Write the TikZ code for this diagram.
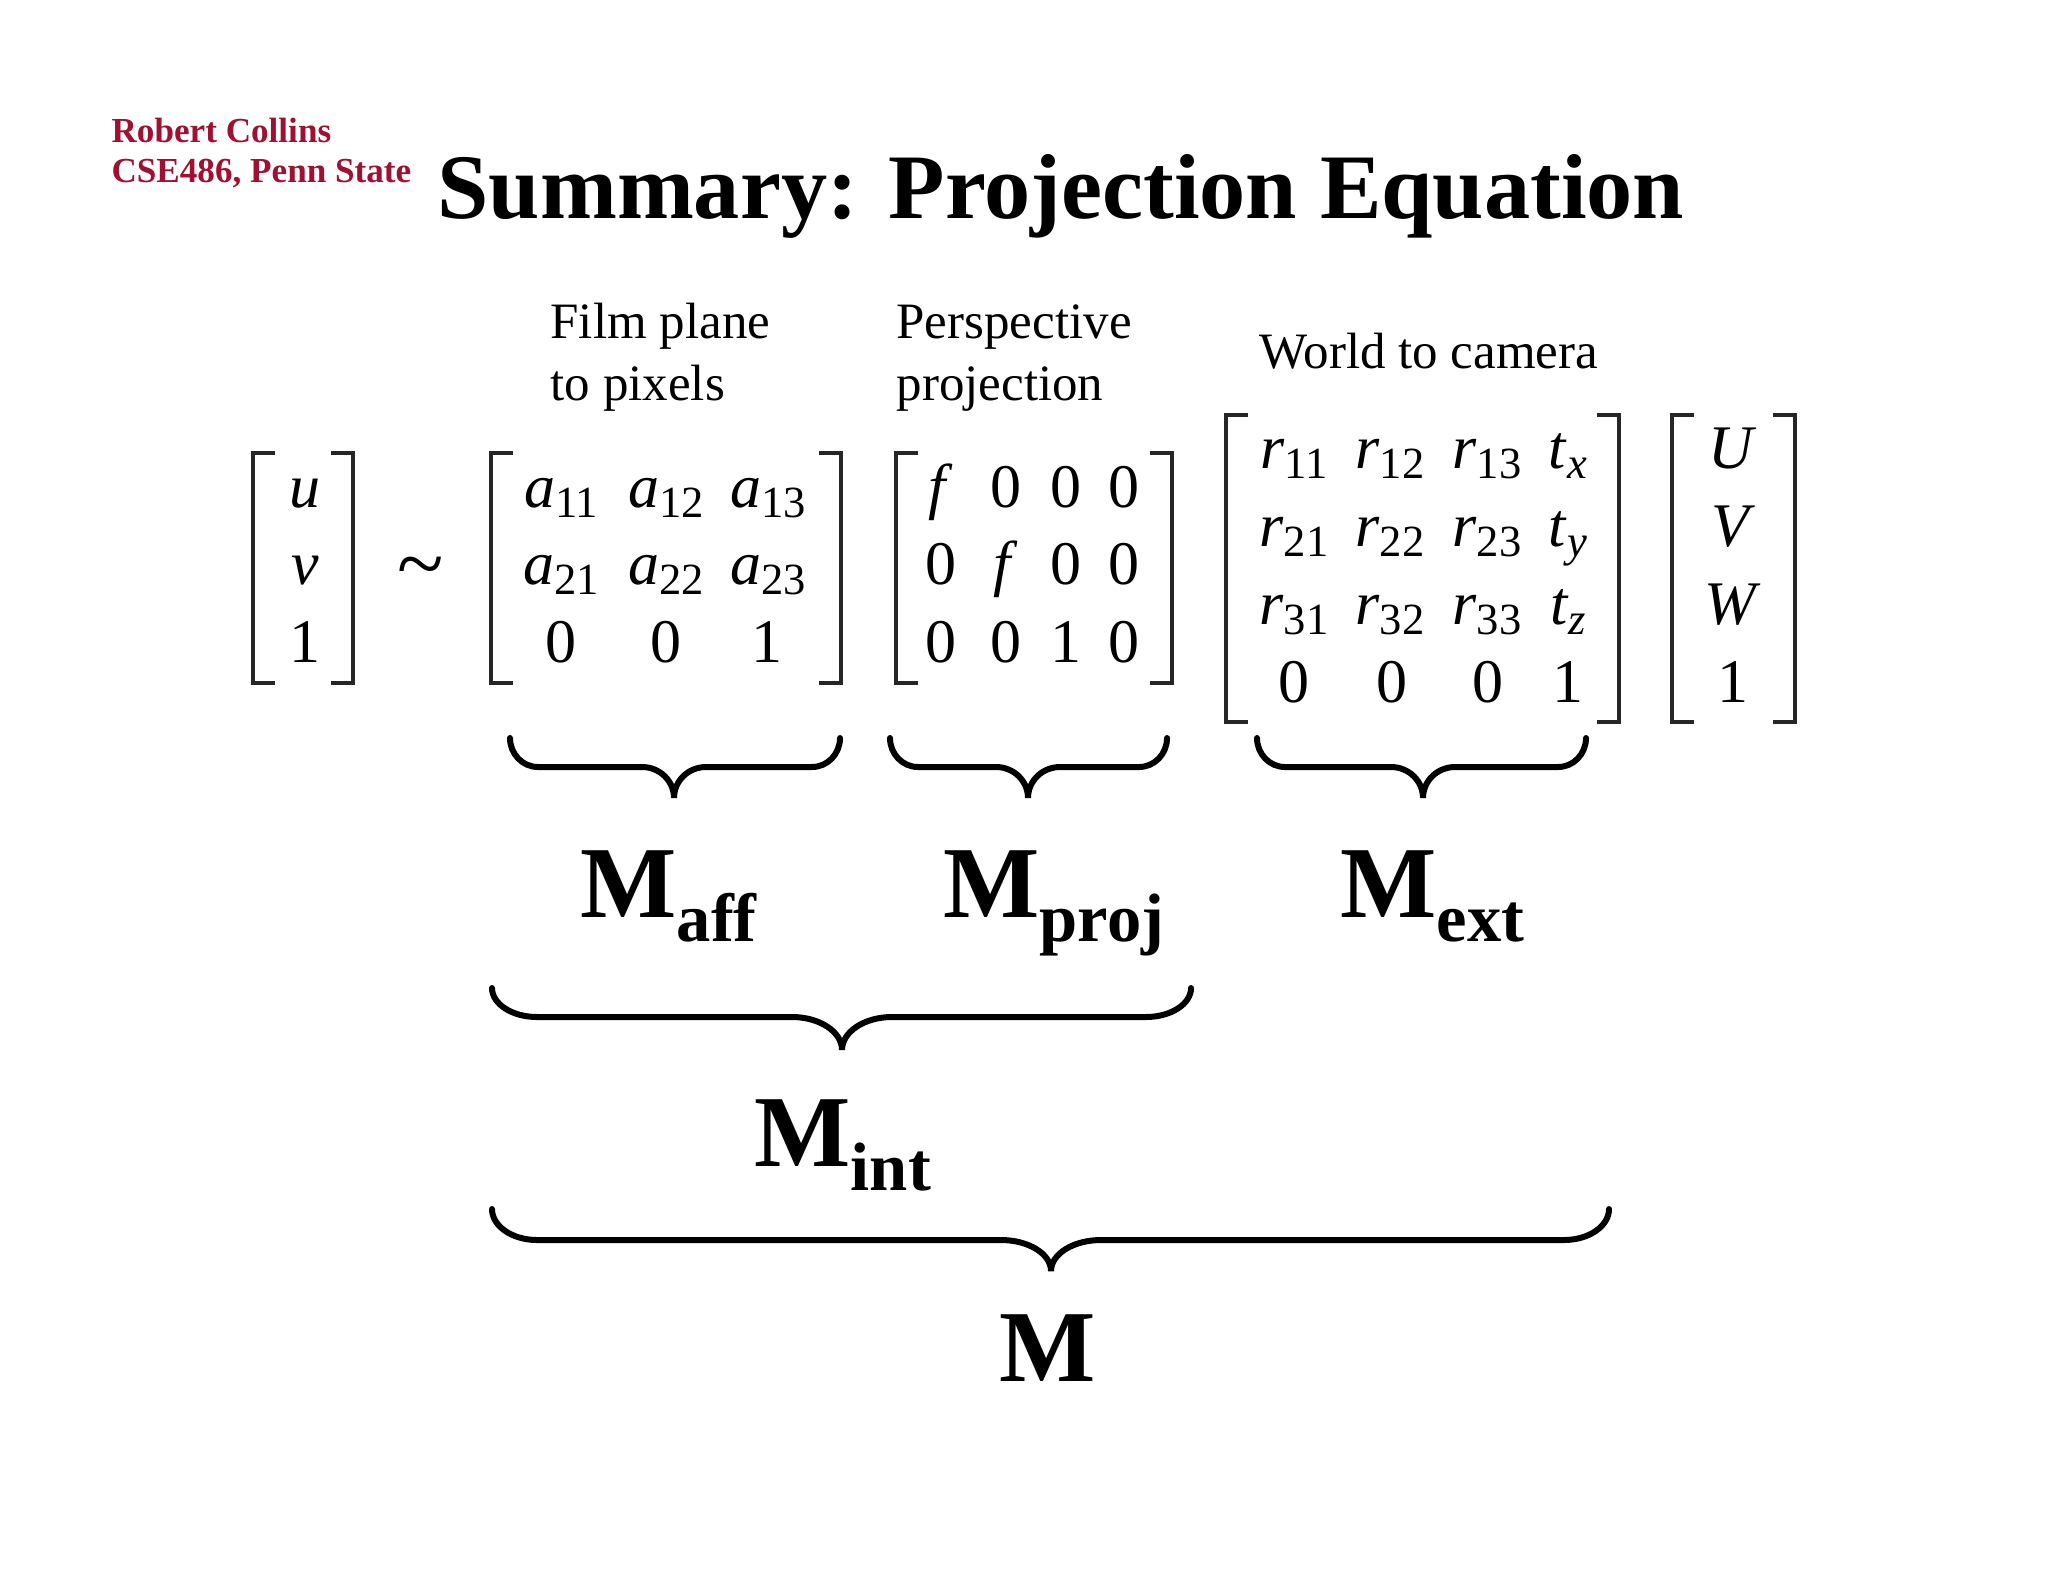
\documentclass[tikz,border=0pt]{standalone}
\usepackage{fontspec}
\setmainfont{Liberation Serif}
\definecolor{psured}{RGB}{160,16,48}
\newcommand\ssub[2]{\textit{#1}\raisebox{-3.5pt}{\fontsize{15.6}{16}\selectfont #2}}
\newcommand\hbr[8]{% x1 x2 xm yt yh yb a b
  \draw[brc] (#1,#4) .. controls (#1,{#4+0.552*(#5-#4)}) and ({#1+0.448*#7},#5) .. ({#1+#7},#5)
  -- ({#3-#8},#5) .. controls ({#3-0.448*#8},#5) and (#3,{#6-0.552*(#6-#5)}) .. (#3,#6)
  .. controls (#3,{#6-0.552*(#6-#5)}) and ({#3+0.448*#8},#5) .. ({#3+#8},#5)
  -- ({#2-#7},#5) .. controls ({#2-0.448*#7},#5) and (#2,{#4+0.552*(#5-#4)}) .. (#2,#4);}
\newcommand\lbrk[3]{\draw[brk] (#1+22,#2) -- (#1,#2) -- (#1,#3) -- (#1+22,#3);}
\newcommand\rbrk[3]{\draw[brk] (#1-22,#2) -- (#1,#2) -- (#1,#3) -- (#1-22,#3);}
\tikzset{
  ent/.style={anchor=base, inner sep=0pt, font=\fontsize{21.7}{26}\selectfont},
  lbl/.style={anchor=base west, inner sep=0pt, font=\fontsize{17.85}{21}\selectfont},
  brk/.style={line width=1.2pt, black!85},
  brc/.style={line width=2.1pt, line cap=round},
  mlab/.style={anchor=base west, inner sep=0pt, font=\bfseries\fontsize{35.7}{40}\selectfont},
  auth/.style={anchor=base west, inner sep=0pt, font=\bfseries\fontsize{12.3}{14}\selectfont, text=psured},
}
\newcommand\msub[2]{#1{\fontsize{24}{28}\selectfont\raisebox{-8.5pt}{#2}}}
\begin{document}
\begin{tikzpicture}[x=0.35pt, y=-0.35pt]
\useasboundingbox[fill=white] (0,0) rectangle (2048,1582);

% header
\node[auth] (auth1) at (111,142) {Robert Collins};
\node[auth] (auth2) at (111,182) {CSE486, Penn State};
\node[anchor=base west, inner sep=0pt, font=\bfseries\fontsize{32.3}{38}\selectfont] (title) at (437,218) {Summary: Projection Equation};

% labels
\node[lbl] (film1) at (550,338) {Film plane};
\node[lbl] (film2) at (550,400) {to pixels};
\node[lbl] (persp1) at (896,338) {Perspective};
\node[lbl] (persp2) at (896,400) {projection};
\node[lbl] (world) at (1259,368) {World to camera};

% vector u v 1
\lbrk{253}{453}{683}\rbrk{353}{453}{683}
\node[ent] (u) at (305,507) {\textit{u}};
\node[ent] (v) at (305,584) {\textit{v}};
\node[ent] (one) at (305,662) {1};

% tilde
\node[anchor=base, inner sep=0pt, font=\fontsize{30}{32}\selectfont] (sim) at (421,592) {\textasciitilde};

% matrix A
\lbrk{491}{453}{683}\rbrk{841}{453}{683}
\node[ent] (a11) at (561,507) {\ssub{a}{11}};
\node[ent] (a12) at (666,507) {\ssub{a}{12}};
\node[ent] (a13) at (768,507) {\ssub{a}{13}};
\node[ent] (a21) at (561,584) {\ssub{a}{21}};
\node[ent] (a22) at (666,584) {\ssub{a}{22}};
\node[ent] (a23) at (768,584) {\ssub{a}{23}};
\node[ent] (a31) at (561,662) {0};
\node[ent] (a32) at (666,662) {0};
\node[ent] (a33) at (767,662) {1};

% matrix P
\lbrk{896}{453}{683}\rbrk{1172}{453}{683}
\node[ent] (p11) at (941,507) {\textit{f}};
\node[ent] (p12) at (1006,507) {0};
\node[ent] (p13) at (1066,507) {0};
\node[ent] (p14) at (1124,507) {0};
\node[ent] (p21) at (941,584) {0};
\node[ent] (p22) at (1006,584) {\textit{f}};
\node[ent] (p23) at (1066,584) {0};
\node[ent] (p24) at (1124,584) {0};
\node[ent] (p31) at (941,662) {0};
\node[ent] (p32) at (1006,662) {0};
\node[ent] (p33) at (1066,662) {1};
\node[ent] (p34) at (1124,662) {0};

% matrix R
\lbrk{1226}{415}{722}\rbrk{1619}{415}{722}
\node[ent] (r11) at (1294,468) {\ssub{r}{11}};
\node[ent] (r12) at (1390,468) {\ssub{r}{12}};
\node[ent] (r13) at (1487,468) {\ssub{r}{13}};
\node[ent] (r14) at (1568,468) {\ssub{t}{\textit{x}}};
\node[ent] (r21) at (1294,546) {\ssub{r}{21}};
\node[ent] (r22) at (1390,546) {\ssub{r}{22}};
\node[ent] (r23) at (1487,546) {\ssub{r}{23}};
\node[ent] (r24) at (1568,546) {\ssub{t}{\textit{y}}};
\node[ent] (r31) at (1294,624) {\ssub{r}{31}};
\node[ent] (r32) at (1390,624) {\ssub{r}{32}};
\node[ent] (r33) at (1487,624) {\ssub{r}{33}};
\node[ent] (r34) at (1568,624) {\ssub{t}{\textit{z}}};
\node[ent] (r41) at (1294,702) {0};
\node[ent] (r42) at (1392,702) {0};
\node[ent] (r43) at (1488,702) {0};
\node[ent] (r44) at (1568,702) {1};

% vector U V W 1
\lbrk{1672}{415}{722}\rbrk{1795}{415}{722}
\node[ent] (U) at (1733,468) {\textit{U}};
\node[ent] (V) at (1733,546) {\textit{V}};
\node[ent] (W) at (1733,624) {\textit{W}};
\node[ent] (one2) at (1733,702) {1};

% braces
\hbr{510}{840}{674}{738}{767}{798}{28}{32}
\hbr{890}{1167}{1028}{738}{767}{798}{28}{32}
\hbr{1257}{1586}{1423}{738}{767}{798}{28}{32}
\hbr{492}{1191}{842}{988}{1017}{1050}{45}{50}
\hbr{492}{1609}{1051}{1209}{1240}{1271}{45}{50}

% M labels
\node[mlab] (maff) at (580,917) {\msub{M}{aff}};
\node[mlab] (mproj) at (943,917) {\msub{M}{proj}};
\node[mlab] (mext) at (1340,917) {\msub{M}{ext}};
\node[mlab] (mint) at (754,1166) {\msub{M}{int}};
\node[mlab] (mall) at (999,1381) {M};
\end{tikzpicture}
\end{document}
